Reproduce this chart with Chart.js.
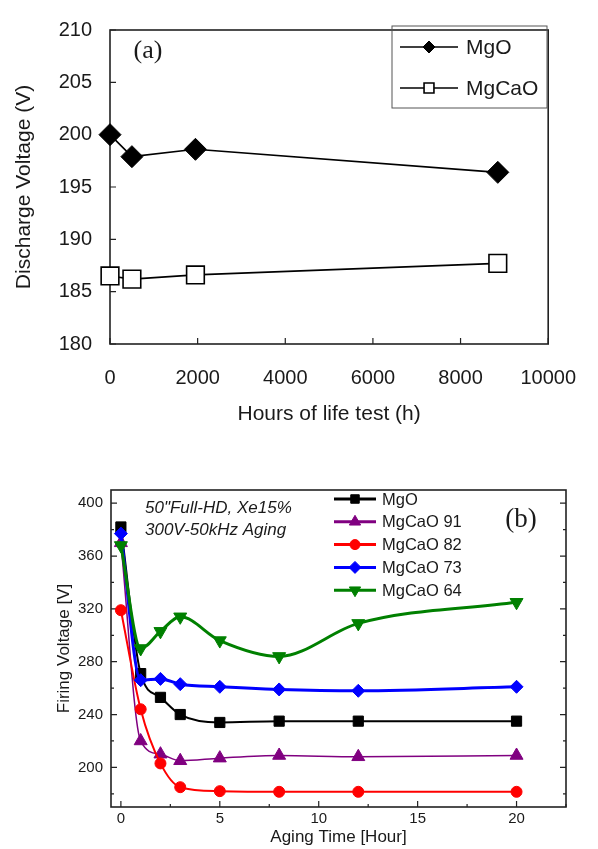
<!DOCTYPE html>
<html>
<head>
<meta charset="utf-8">
<script src="https://cdn.jsdelivr.net/npm/chart.js@4.4.1/dist/chart.umd.min.js"></script>
<style>
  body { margin: 0; background: #fff; }
  .wrap { position: absolute; left: 0; width: 598px; }
  #wrapA { top: 0; height: 430px; }
  #wrapB { top: 430px; height: 419px; }
</style>
</head>
<body>
<div class="wrap" id="wrapA"><canvas id="chartA"></canvas></div>
<div class="wrap" id="wrapB"><canvas id="chartB"></canvas></div>
<script>
// (a) discharge voltage during the life test
const lifeHours = [0, 500, 1950, 8850];
const mgoDischarge = [200.0, 197.9, 198.6, 196.4];
const mgcaoDischarge = [186.5, 186.2, 186.6, 187.7];
const lifeTicksX = [0, 2000, 4000, 6000, 8000, 10000];
const dischargeTicksY = [180, 185, 190, 195, 200, 205, 210];

// (b) firing voltage during aging
const agingHours = [0, 1, 2, 3, 5, 8, 12, 20];
const firingMgO = [382, 271, 253, 240, 234, 235, 235, 235];
const firingMgCaO91 = [370, 220, 210, 205, 207, 209, 208, 209];
const firingMgCaO82 = [319, 244, 203, 185, 182, 181.5, 181.5, 181.5];
const firingMgCaO73 = [377, 266, 267, 263, 261, 259, 258, 261];
const firingMgCaO64 = [368, 290, 303, 314, 296, 284, 309, 325];
const agingTicksX = [0, 5, 10, 15, 20];
const agingMinorX = [2.5, 7.5, 12.5, 17.5, 22.5];
const firingTicksY = [200, 240, 280, 320, 360, 400];
const firingMinorY = [180, 220, 260, 300, 340, 380];

const SANS = "'Liberation Sans', Arial, sans-serif";
const SERIF = "'Liberation Serif', 'Times New Roman', serif";
Chart.defaults.color = '#1a1a1a';
Chart.defaults.font.family = SANS;

const pts = (xs, ys) => xs.map((x, i) => ({ x: x, y: ys[i] }));

// box around the plot area plus inward tick marks (bottom/left, optionally right)
const framePlugin = {
  id: 'frame',
  beforeDatasetsDraw(chart, args, opts) {
    const { ctx, chartArea: a } = chart;
    const xs = chart.scales.x, ys = chart.scales.y;
    ctx.save();
    ctx.strokeStyle = opts.color;
    ctx.lineWidth = opts.lineWidth;
    ctx.strokeRect(a.left, a.top, a.right - a.left, a.bottom - a.top);
    ctx.lineWidth = 1.2;
    const mark = (vals, len) => {
      ctx.beginPath();
      vals.x.forEach(v => {
        const px = xs.getPixelForValue(v);
        ctx.moveTo(px, a.bottom); ctx.lineTo(px, a.bottom - len);
      });
      vals.y.forEach(v => {
        const py = ys.getPixelForValue(v);
        ctx.moveTo(a.left, py); ctx.lineTo(a.left + len, py);
        if (opts.mirror) { ctx.moveTo(a.right, py); ctx.lineTo(a.right - len, py); }
      });
      ctx.stroke();
    };
    mark({ x: xs.ticks.map(t => t.value), y: ys.ticks.map(t => t.value) }, opts.majorLen);
    if (opts.minorX) mark({ x: opts.minorX, y: opts.minorY }, opts.minorLen);
    ctx.restore();
  }
};

// legend rows: line with the dataset's marker in the middle
const keyPlugin = {
  id: 'key',
  afterDraw(chart, args, opts) {
    const ctx = chart.ctx;
    ctx.save();
    if (opts.box) {
      ctx.strokeStyle = '#555';
      ctx.lineWidth = 1;
      ctx.strokeRect(opts.box[0], opts.box[1], opts.box[2], opts.box[3]);
    }
    ctx.font = opts.font;
    ctx.textBaseline = 'middle';
    chart.data.datasets.forEach((ds, i) => {
      const y = opts.y0 + i * opts.dy;
      ctx.strokeStyle = ds.borderColor;
      ctx.lineWidth = opts.lineWidth || ds.borderWidth;
      ctx.beginPath();
      ctx.moveTo(opts.x0, y); ctx.lineTo(opts.x1, y);
      ctx.stroke();
      ctx.fillStyle = ds.pointBackgroundColor;
      ctx.strokeStyle = ds.pointBorderColor;
      ctx.lineWidth = ds.pointBorderWidth;
      Chart.helpers.drawPoint(ctx, {
        pointStyle: ds.pointStyle, rotation: ds.pointRotation || 0,
        radius: opts.radius[i], borderWidth: ds.pointBorderWidth
      }, (opts.x0 + opts.x1) / 2, y);
      ctx.fillStyle = '#1a1a1a';
      ctx.fillText(ds.label, opts.tx, y + 1);
    });
    ctx.restore();
  }
};

// free text inside the plot
const notePlugin = {
  id: 'notes',
  afterDraw(chart, args, opts) {
    const ctx = chart.ctx;
    ctx.save();
    ctx.fillStyle = '#1a1a1a';
    ctx.textBaseline = 'middle';
    opts.items.forEach(n => {
      ctx.font = n.font;
      ctx.textAlign = n.align || 'left';
      ctx.fillText(n.text, n.x, n.y);
    });
    ctx.restore();
  }
};

new Chart(document.getElementById('chartA'), {
  type: 'line',
  data: {
    datasets: [{
      label: 'MgO',
      data: pts(lifeHours, mgoDischarge),
      borderColor: '#000', borderWidth: 1.6,
      pointStyle: 'rectRot', pointRadius: 11,
      pointBackgroundColor: '#000', pointBorderColor: '#000', pointBorderWidth: 1,
      tension: 0, clip: false
    }, {
      label: 'MgCaO',
      data: pts(lifeHours, mgcaoDischarge),
      borderColor: '#000', borderWidth: 1.6,
      pointStyle: 'rect', pointRadius: 12.5,
      pointBackgroundColor: '#fff', pointBorderColor: '#000', pointBorderWidth: 1.6,
      tension: 0, clip: false
    }]
  },
  options: {
    responsive: true, maintainAspectRatio: false, animation: false,
    layout: { padding: { top: 21, right: 34, left: 0, bottom: 0 } },
    scales: {
      x: {
        type: 'linear', min: 0, max: 10000,
        afterBuildTicks: s => { s.ticks = lifeTicksX.map(v => ({ value: v })); },
        afterFit: s => { s.height = 86; },
        grid: { display: false, drawTicks: false, tickLength: 0 },
        border: { display: false },
        ticks: { font: { size: 20 }, padding: 22, maxRotation: 0, callback: v => String(v) },
        title: { display: true, text: 'Hours of life test (h)', font: { size: 21 }, padding: { top: 0, bottom: 3 } }
      },
      y: {
        min: 180, max: 210,
        afterBuildTicks: s => { s.ticks = dischargeTicksY.map(v => ({ value: v })); },
        afterFit: s => { s.width = 110; },
        grid: { display: false, drawTicks: false, tickLength: 0 },
        border: { display: false },
        ticks: { font: { size: 20 }, padding: 18 },
        title: { display: true, text: 'Discharge Voltage (V)', font: { size: 21 }, padding: { top: 12, bottom: 0 } }
      }
    },
    plugins: {
      legend: { display: false },
      tooltip: { enabled: false },
      frame: { color: '#222', lineWidth: 1.6, majorLen: 6, mirror: false },
      key: {
        box: [392, 26, 155, 82], font: '21px ' + SANS,
        x0: 400, x1: 458, tx: 466, y0: 47, dy: 41, radius: [6, 7], lineWidth: 1.4
      },
      notes: { items: [{ text: '(a)', x: 148, y: 51, font: '26px ' + SERIF, align: 'center' }] }
    }
  },
  plugins: [framePlugin, keyPlugin, notePlugin]
});

const lineB = (label, ys, color, width, style, radius, rot, order) => ({
  label: label,
  data: pts(agingHours, ys),
  borderColor: color, borderWidth: width,
  pointStyle: style, pointRadius: radius, pointRotation: rot,
  pointBackgroundColor: color, pointBorderColor: color, pointBorderWidth: 1,
  cubicInterpolationMode: 'monotone', clip: false, order: order
});

new Chart(document.getElementById('chartB'), {
  type: 'line',
  data: {
    datasets: [
      lineB('MgO', firingMgO, '#000000', 2, 'rect', 7.2, 0, 5),
      lineB('MgCaO 91', firingMgCaO91, '#800080', 1.5, 'triangle', 7.5, 0, 4),
      lineB('MgCaO 82', firingMgCaO82, '#ff0000', 2, 'circle', 5.5, 0, 3),
      lineB('MgCaO 73', firingMgCaO73, '#0000ff', 3, 'rectRot', 6.5, 0, 2),
      lineB('MgCaO 64', firingMgCaO64, '#008000', 3, 'triangle', 7.5, 180, 1)
    ]
  },
  options: {
    responsive: true, maintainAspectRatio: false, animation: false,
    layout: { padding: { top: 60, right: 32, left: 0, bottom: 0 } },
    scales: {
      x: {
        type: 'linear', min: -0.5, max: 22.5,
        afterBuildTicks: s => { s.ticks = agingTicksX.map(v => ({ value: v })); },
        afterFit: s => { s.height = 42; },
        grid: { display: false, drawTicks: false, tickLength: 0 },
        border: { display: false },
        ticks: { font: { size: 15 }, padding: 3, maxRotation: 0 },
        title: { display: true, text: 'Aging Time [Hour]', font: { size: 17 }, padding: { top: 0, bottom: 1 } }
      },
      y: {
        min: 170, max: 410,
        afterBuildTicks: s => { s.ticks = firingTicksY.map(v => ({ value: v })); },
        afterFit: s => { s.width = 111; },
        grid: { display: false, drawTicks: false, tickLength: 0 },
        border: { display: false },
        ticks: { font: { size: 15 }, padding: 8 },
        title: { display: true, text: 'Firing Voltage [V]', font: { size: 17 }, padding: { top: 54, bottom: 0 } }
      }
    },
    plugins: {
      legend: { display: false },
      tooltip: { enabled: false },
      frame: {
        color: '#222', lineWidth: 1.6, majorLen: 6, minorLen: 3, mirror: true,
        minorX: agingMinorX, minorY: firingMinorY
      },
      key: {
        font: '16.5px ' + SANS,
        x0: 334, x1: 376, tx: 382, y0: 69, dy: 22.8, radius: [6, 6.5, 5, 6, 6.5], lineWidth: 3
      },
      notes: {
        items: [
          { text: '50"Full-HD, Xe15%', x: 145, y: 78, font: 'italic 17px ' + SANS },
          { text: '300V-50kHz Aging', x: 145, y: 100, font: 'italic 17px ' + SANS },
          { text: '(b)', x: 521, y: 90, font: '27px ' + SERIF, align: 'center' }
        ]
      }
    }
  },
  plugins: [framePlugin, keyPlugin, notePlugin]
});
</script>
</body>
</html>
